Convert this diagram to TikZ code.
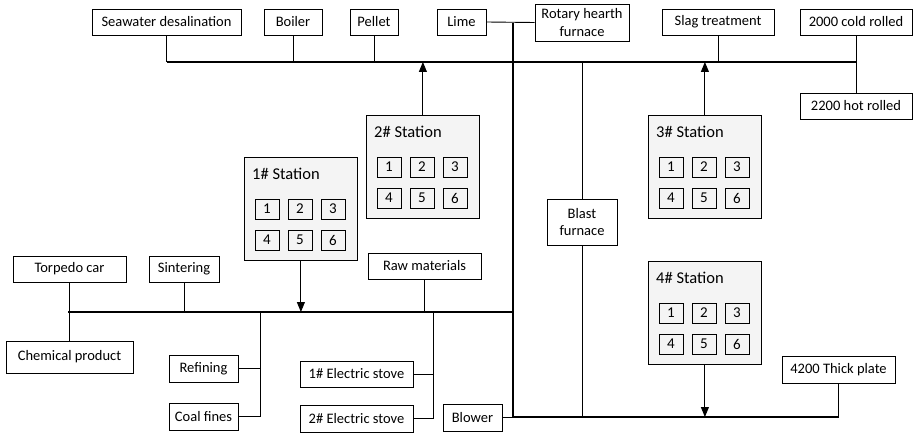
\documentclass[tikz,border=0pt]{standalone}
\usepackage{fontspec}
\setmainfont{Carlito}
\usetikzlibrary{arrows.meta}
\tikzset{
  blk/.style={draw, fill=white, line width=0.8pt, minimum height=26pt, inner sep=1pt,
    align=center, font=\fontsize{14.5}{17.5}\selectfont},
  stn/.style={draw, fill=gray!9, line width=0.8pt, minimum width=113pt, minimum height=103pt,
    anchor=north west, inner sep=0pt},
  ttl/.style={anchor=west, inner sep=0pt, font=\fontsize{16.5}{19}\selectfont},
  cell/.style={draw, line width=0.8pt, minimum width=24pt, minimum height=20pt, inner sep=0pt,
    font=\fontsize{15}{17}\selectfont},
  bus/.style={line width=2.7pt},
  wire/.style={line width=0.9pt},
  feed/.style={line width=0.9pt, -{Triangle[length=10pt,width=8pt]}}
}
\begin{document}
\begin{tikzpicture}[x=1pt,y=-1pt]
  \useasboundingbox (0,0) rectangle (917,433);

  % Bus coordinates
  \coordinate (tbL) at (167,62);
  \coordinate (tbR) at (857,62);
  \coordinate (mTop) at (513,23);
  \coordinate (mBot) at (513,417);
  \coordinate (lbL) at (68,312);
  \coordinate (lbR) at (513,312);
  \coordinate (bbR) at (838.5,417);
  \coordinate (jR) at (260,312);
  \coordinate (jS) at (433,312);

  % Buses
  \draw[bus] (tbL) -- (tbR);
  \draw[bus] (mTop) -- (mBot) -- (bbR);
  \draw[bus] (lbL) -- (lbR);

  % Top row
  \node[blk, minimum width=149pt] (sea) at (166.5,22) {Seawater desalination};
  \node[blk, minimum width=58pt] (boiler) at (293,22) {Boiler};
  \node[blk, minimum width=48pt] (pellet) at (374,22) {Pellet};
  \node[blk, minimum width=49pt] (lime) at (461.5,22) {Lime};
  \node[blk, minimum width=94pt, minimum height=37pt] (rotary) at (582,22.5) {Rotary hearth\\furnace};
  \node[blk, minimum width=112pt] (slag) at (718,22) {Slag treatment};
  \node[blk, minimum width=112pt] (cold) at (856,22) {2000 cold rolled};
  \node[blk, minimum width=112pt] (hot) at (856,106) {2200 hot rolled};

  % Middle
  \node[blk, minimum width=70pt, minimum height=46pt] (blast) at (582,222) {Blast\\furnace};

  % Lower row
  \node[blk, minimum width=113pt] (torpedo) at (69.5,269) {Torpedo car};
  \node[blk, minimum width=70pt] (sinter) at (184,269) {Sintering};
  \node[blk, minimum width=113pt] (raw) at (424.5,266) {Raw materials};
  \node[blk, minimum width=127pt, minimum height=32pt] (chem) at (69.5,357) {Chemical product};
  \node[blk, minimum width=69pt, minimum height=27pt] (refine) at (203.5,368.5) {Refining};
  \node[blk, minimum width=69pt, minimum height=27pt] (coal) at (203.5,416.5) {Coal fines};
  \node[blk, minimum width=113pt] (stove1) at (356.5,374) {1\# Electric stove};
  \node[blk, minimum width=113pt, minimum height=27pt] (stove2) at (356.5,418.5) {2\# Electric stove};
  \node[blk, minimum width=59pt, minimum height=27pt] (blower) at (472.5,417.5) {Blower};
  \node[blk, minimum width=113pt, minimum height=27pt] (plate) at (838.5,369.5) {4200 Thick plate};

  % Stations
  \foreach \n/\x/\y in {1/244/157, 2/366/115, 3/648/115, 4/648/261} {
    \node[stn] (s\n) at (\x,\y) {};
    \node[ttl] (s\n-t) at (\x+8,\y+17) {\n\# Station};
    \foreach \c in {1,2,3} {
      \node[cell] (s\n-\c) at (\x+23+33*\c-33,\y+52) {\c};
    }
    \foreach \c/\k in {4/1,5/2,6/3} {
      \node[cell] (s\n-\c) at (\x+23+33*\k-33,\y+83) {\c};
    }
  }

  % Top connections
  \draw[wire] (sea.south) -- (sea.south |- tbL);
  \draw[wire] (boiler.south) -- (boiler.south |- tbL);
  \draw[wire] (pellet.south) -- (pellet.south |- tbL);
  \draw[wire] (slag.south) -- (slag.south |- tbL);
  \draw[wire] (cold.south) -- (hot.north);
  \draw[wire] (lime.east) -- (rotary.west);
  \draw[feed] (s2.north) -- (s2.north |- tbL);
  \draw[feed] (s3.north) -- (s3.north |- tbL);

  % Blast furnace
  \draw[wire] (blast.north) -- (blast.north |- tbL);
  \draw[wire] (blast.south) -- (blast.south |- mBot);

  % Lower connections
  \draw[wire] (torpedo.south) -- (chem.north);
  \draw[wire] (sinter.south) -- (sinter.south |- lbL);
  \draw[wire] (raw.south) -- (raw.south |- lbL);
  \draw[wire] (jR) |- (refine.east);
  \draw[wire] (jR) |- (coal.east);
  \draw[wire] (jS) |- (stove1.east);
  \draw[wire] (jS) |- (stove2.east);
  \draw[feed] (s1.south) -- (s1.south |- lbL);

  % Bottom connections
  \draw[wire] (blower.east) -- (blower.east -| mBot);
  \draw[wire] (plate.south) -- (plate.south |- mBot);
  \draw[feed] (s4.south) -- (s4.south |- mBot);
\end{tikzpicture}
\end{document}
